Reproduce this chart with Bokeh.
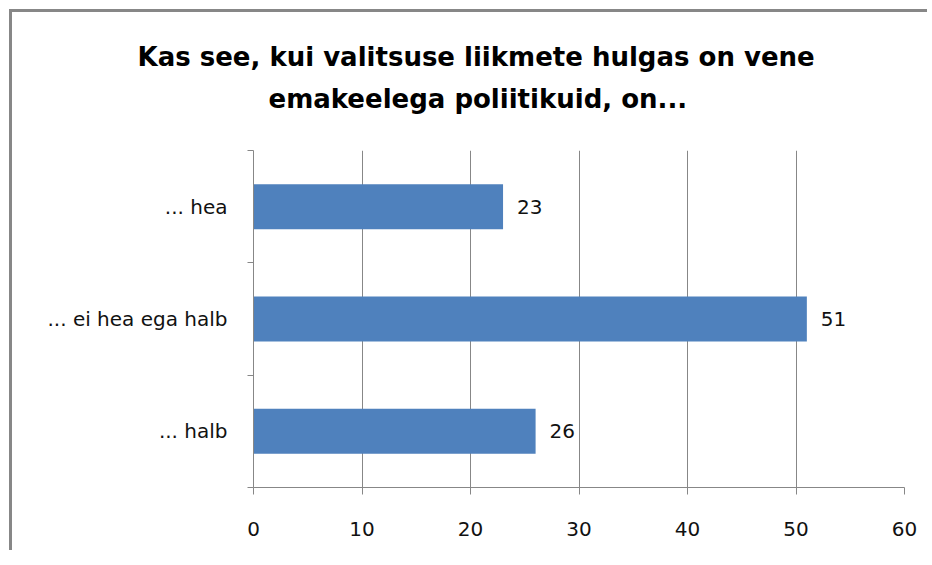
from bokeh.plotting import figure
from bokeh.models import Range1d, FixedTicker, Title, ColumnDataSource, LinearAxis
from bokeh.core.properties import value
from bokeh.embed import file_html
from bokeh.resources import INLINE

# Data
categories = ["... hea", "... ei hea ega halb", "... halb"]   # top to bottom
values = [23, 51, 26]
x_ticks = [0, 10, 20, 30, 40, 50, 60]
title_lines = ["Kas see, kui valitsuse liikmete hulgas on vene",
               "emakeelega poliitikuid, on..."]

n = len(categories)
ypos = [n - i - 0.5 for i in range(n)]
src = ColumnDataSource(dict(y=ypos, v=values, lbl=[str(v) for v in values]))

GRAY = "#878787"
FONT = "DejaVu Sans"
TXT = "#111111"

p = figure(width=918, height=541, output_backend="svg", toolbar_location=None,
           x_range=Range1d(x_ticks[0], x_ticks[-1]), y_range=Range1d(0, n),
           min_border_left=241, min_border_right=26, min_border_top=138,
           min_border_bottom=66, title=None)
# chart-area outline (left and top edges, as in the source image)
p.styles = {"margin-left": "12px", "margin-top": "12px",
            "box-shadow": "-3px -3px 0px 0px #878787",
            "overflow": "hidden"}
p.outline_line_color = None
p.background_fill_color = "white"
p.border_fill_color = "white"

p.hbar(y="y", right="v", left=0, height=0.4, source=src,
       fill_color="#4F81BD", line_color=None)
p.text(x="v", y="y", text="lbl", source=src, x_offset=14, text_baseline="middle",
       text_align="left", text_font=value(FONT), text_font_size="20px",
       text_color=TXT)

# x axis
xa = p.xaxis[0]
xa.ticker = FixedTicker(ticks=x_ticks)
xa.axis_line_color = GRAY
xa.major_tick_line_color = GRAY
xa.major_tick_out = 7
xa.major_tick_in = 0
xa.minor_tick_line_color = None
xa.major_label_standoff = 27
xa.major_label_text_font = FONT
xa.major_label_text_font_size = "20px"
xa.major_label_text_color = TXT

# y axis: labels at category centers, ticks at category boundaries
ya = p.yaxis[0]
ya.ticker = FixedTicker(ticks=ypos, minor_ticks=list(range(n + 1)))
ya.major_label_overrides = {y: c for y, c in zip(ypos, categories)}
ya.axis_line_color = GRAY
ya.major_tick_line_color = None
ya.major_tick_out = 6
ya.major_tick_in = 0
ya.minor_tick_line_color = GRAY
ya.minor_tick_out = 6
ya.minor_tick_in = 0
ya.major_label_standoff = 20
ya.major_label_text_font = FONT
ya.major_label_text_font_size = "20px"
ya.major_label_text_color = TXT

p.xgrid.ticker = FixedTicker(ticks=x_ticks)
p.xgrid.grid_line_color = GRAY
p.ygrid.grid_line_color = None

# invisible spacer between frame and title block
spacer = LinearAxis(ticker=FixedTicker(ticks=[x_ticks[0]]), axis_line_color=None,
                    major_tick_line_color="white", minor_tick_line_color=None,
                    major_tick_out=37, major_tick_in=0, minor_tick_out=0,
                    major_label_overrides={x_ticks[0]: ""},
                    major_label_text_font_size="1px", major_label_standoff=0)
p.add_layout(spacer, "above")

# title lines (first added is closest to the frame)
p.add_layout(Title(text=title_lines[1], align="left", offset=15,
                   text_font=FONT, text_font_size="26px", text_font_style="bold",
                   standoff=0, text_color="black"), "above")
p.add_layout(Title(text=title_lines[0], align="left", offset=-116,
                   text_font=FONT, text_font_size="26px", text_font_style="bold",
                   standoff=20, text_color="black"), "above")

open("out.html", "w").write(file_html(p, INLINE))
